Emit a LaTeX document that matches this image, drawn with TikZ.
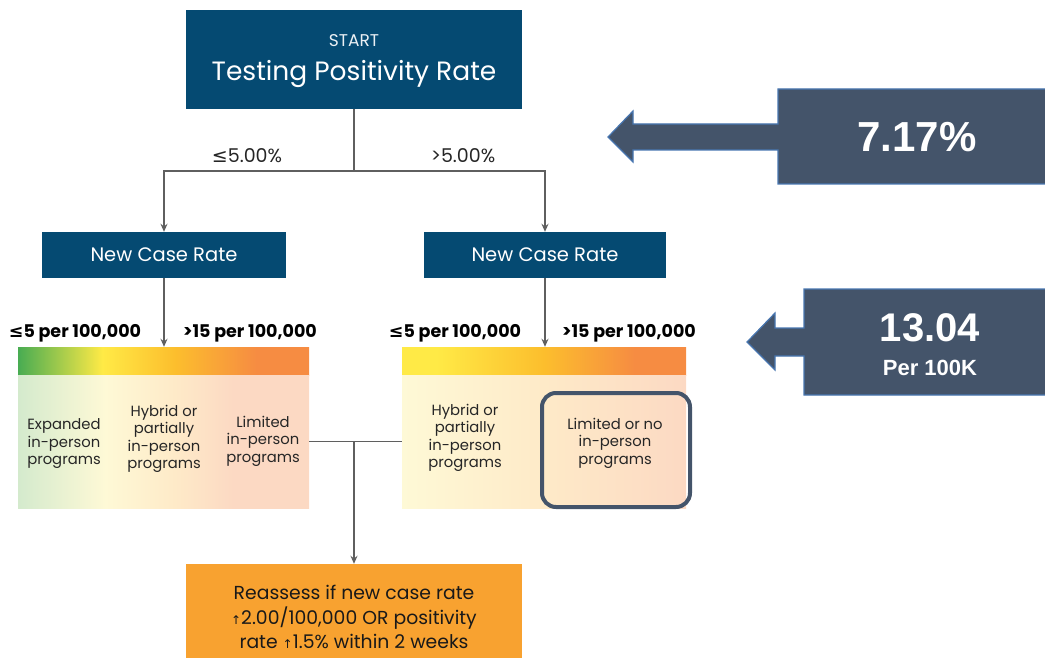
\documentclass[tikz,border=0pt]{standalone}
\usepackage{fontspec}
\setmainfont{Poppins}
\newfontfamily\symf{DejaVu Sans}
\newfontfamily\arialf{Liberation Sans}
\usetikzlibrary{arrows.meta}
\definecolor{navy}{RGB}{5,74,114}
\definecolor{slate}{RGB}{68,84,106}
\definecolor{slateedge}{RGB}{72,118,176}
\definecolor{conn}{RGB}{95,95,95}
\definecolor{orangebox}{RGB}{248,162,48}
\definecolor{cgreen}{RGB}{72,172,82}
\definecolor{cyellow}{RGB}{255,234,70}
\definecolor{cgold}{RGB}{252,190,45}
\definecolor{corange}{RGB}{246,140,66}
\definecolor{pgreen}{RGB}{212,234,205}
\definecolor{pyellow}{RGB}{254,249,214}
\definecolor{pgold}{RGB}{254,234,200}
\definecolor{ppeach}{RGB}{252,217,195}
\pgfdeclarehorizontalshading{lbarsh}{100bp}{color(0bp)=(cgreen); color(25bp)=(cgreen); color(39.5bp)=(cyellow); color(52bp)=(cgold); color(66bp)=(corange); color(75bp)=(corange); color(100bp)=(corange)}
\pgfdeclarehorizontalshading{lpanesh}{100bp}{color(0bp)=(pgreen); color(25bp)=(pgreen); color(40bp)=(pyellow); color(52bp)=(pgold); color(62bp)=(ppeach); color(75bp)=(ppeach); color(100bp)=(ppeach)}
\pgfdeclarehorizontalshading{rbarsh}{100bp}{color(0bp)=(cyellow); color(25bp)=(cyellow); color(31bp)=(cyellow); color(50bp)=(cgold); color(66bp)=(corange); color(75bp)=(corange); color(100bp)=(corange)}
\pgfdeclarehorizontalshading{rpanesh}{100bp}{color(0bp)=(pyellow); color(25bp)=(pyellow); color(50bp)=(pgold); color(75bp)=(ppeach); color(100bp)=(ppeach)}
\tikzset{
  bluebox/.style={rectangle, fill=navy, text=white, inner sep=0pt},
  conline/.style={draw=conn, line width=1.6pt},
  arr/.style={conline, -{Stealth[length=8pt,width=7pt]}},
  barlabel/.style={font=\fontsize{17.5}{20}\selectfont\bfseries, text=black, inner sep=0pt},
  panetext/.style={font=\fontsize{14.8}{17.5}\selectfont, align=center, text=black!85, inner sep=0pt},
  callout/.style={fill=slate, draw=slateedge, line width=1.2pt},
}
\begin{document}
\begin{tikzpicture}[x=1pt,y=-1pt]
\useasboundingbox (0,0) rectangle (1045,658);
% top box
\node[bluebox, minimum width=336pt, minimum height=99pt] (start) at (354,59.5) {};
\node[text=white!92!navy, font=\fontsize{17}{20}\selectfont, inner sep=0pt] (startlbl) at (354,41) {START};
\node[text=white, font=\fontsize{26.5}{30}\selectfont, inner sep=0pt] (startttl) at (354,74) {Testing Positivity Rate};
% new case rate boxes
\node[bluebox, minimum width=244pt, minimum height=46pt, font=\fontsize{19.5}{22}\selectfont] (ncl) at (164,255) {\raisebox{-1.5pt}{New Case Rate}};
\node[bluebox, minimum width=242pt, minimum height=46pt, font=\fontsize{19.5}{22}\selectfont] (ncr) at (545,255) {\raisebox{-1.5pt}{New Case Rate}};
% split
\coordinate (split) at (354,171);
\draw[conline] (start.south) -- (split);
\draw[arr] (split) -| (ncl.north);
\draw[arr] (split) -| (ncr.north);
\node[font=\fontsize{19}{22}\selectfont, inner sep=0pt, text=black!85] (le5) at (247,156) {{\symf ≤}5.00\%};
\node[font=\fontsize{19}{22}\selectfont, inner sep=0pt, text=black!85] (gt5) at (463,156) {>5.00\%};
% bars
\node[rectangle, shading=lbarsh, minimum width=291pt, minimum height=28pt, inner sep=0pt] (lbar) at (163.5,361) {};
\node[rectangle, shading=lpanesh, minimum width=291pt, minimum height=133pt, inner sep=0pt] (lpane) at (163.5,441.5) {};
\node[rectangle, shading=rbarsh, minimum width=284pt, minimum height=28pt, inner sep=0pt] (rbar) at (544,361) {};
\node[rectangle, shading=rpanesh, minimum width=284pt, minimum height=133pt, inner sep=0pt] (rpane) at (544,441.5) {};
\draw[arr] (ncl.south) -- (ncl.south |- lbar.north);
\draw[arr] (ncr.south) -- (ncr.south |- rbar.north);
\node[barlabel] (l1) at (75,333) {{\symf ≤}5 per 100,000};
\node[barlabel] (l2) at (250,333) {>15 per 100,000};
\node[barlabel] (r1) at (455,333) {{\symf ≤}5 per 100,000};
\node[barlabel] (r2) at (629,333) {>15 per 100,000};
% pane texts
\node[panetext] (t1) at (64,444) {Expanded\\in-person\\programs};
\node[panetext] (t2) at (164,439) {Hybrid or\\partially\\in-person\\programs};
\node[panetext] (t3) at (263,441) {Limited\\in-person\\programs};
\node[panetext] (t4) at (465,438) {Hybrid or\\partially\\in-person\\programs};
\node[rectangle, rounded corners=14pt, draw=slate, line width=4pt, minimum width=148pt, minimum height=114pt] (hl) at (616,450) {};
\node[panetext] (t5) at (615,443) {Limited or no\\in-person\\programs};
% join
\coordinate (join) at (354,441.5);
\node[rectangle, fill=orangebox, minimum width=336pt, minimum height=94pt, inner sep=0pt] (reassess) at (354,611) {};
\draw[conline] (lpane.east) -- (rpane.west);
\draw[arr] (join) -- (reassess.north);
\node[font=\fontsize{18.8}{24.5}\selectfont, align=center, text=black!90, inner sep=0pt] (rtext) at (354,617) {Reassess if new case rate\\{\symf\fontsize{12}{12}\selectfont ↑}2.00/100,000 OR positivity\\rate {\symf\fontsize{12}{12}\selectfont ↑}1.5\% within 2 weeks};
% callouts
\draw[callout] (608,137) -- (633,111) -- (633,124) -- (778,124) -- (778,89) -- (1048,89) -- (1048,184) -- (778,184) -- (778,150) -- (633,150) -- (633,162) -- cycle;
\node[text=white, font=\arialf\bfseries\fontsize{42}{48}\selectfont, inner sep=0pt] (v1) at (917,137) {7.17\%};
\draw[callout] (747,342) -- (775,313) -- (775,328) -- (804,328) -- (804,289) -- (1048,289) -- (1048,395) -- (804,395) -- (804,356) -- (775,356) -- (775,370) -- cycle;
\node[text=white, font=\arialf\bfseries\fontsize{40}{46}\selectfont, inner sep=0pt] (v2) at (930,328) {13.04};
\node[text=white, font=\arialf\bfseries\fontsize{22}{26}\selectfont, inner sep=0pt] (v3) at (930,368) {Per 100K};
\end{tikzpicture}
\end{document}
